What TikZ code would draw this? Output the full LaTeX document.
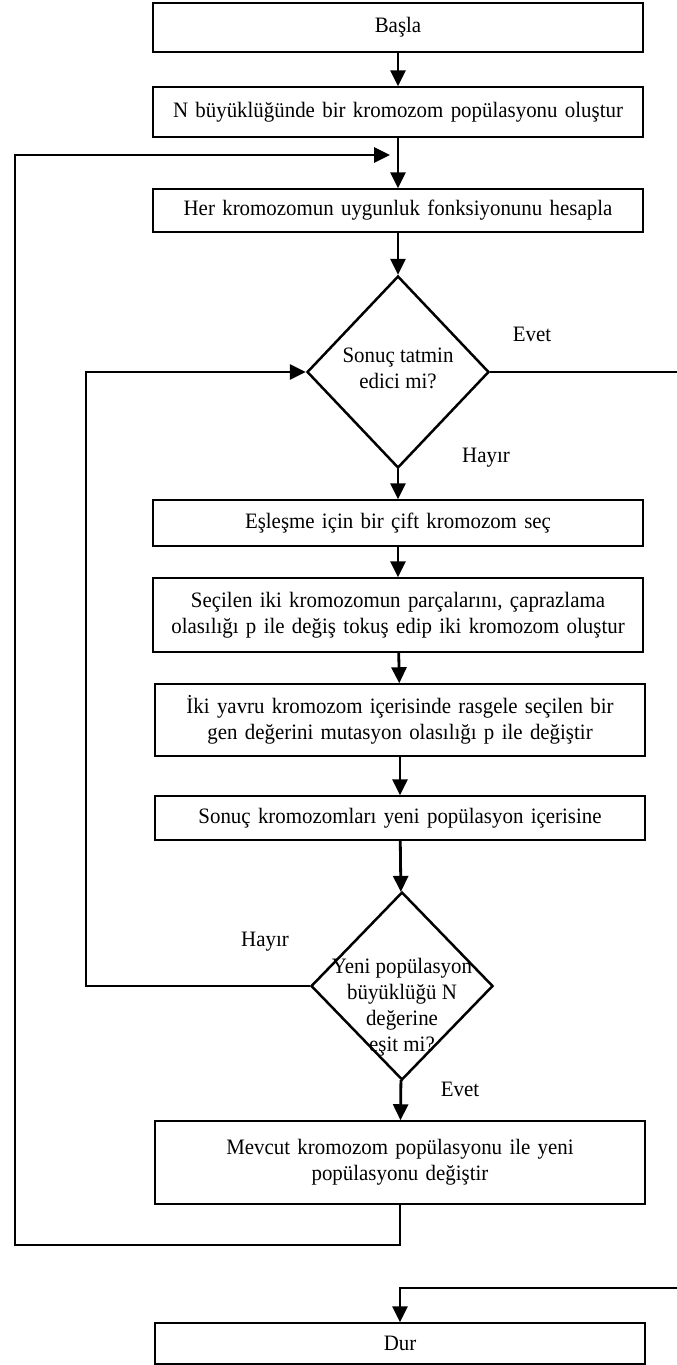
\documentclass[tikz,border=0pt]{standalone}
\usepackage{fontspec}
\setmainfont{Liberation Serif}[FakeStretch=0.95]
\usetikzlibrary{shapes.geometric,arrows.meta}

\tikzset{
  every node/.style={font=\fontsize{22pt}{26pt}\selectfont},
  procbox/.style={draw, line width=1.5pt, minimum width=490pt, text width=470pt,
                  inner xsep=10pt, inner ysep=0pt, align=center, minimum height=#1},
  decision/.style={draw, diamond, line width=2.5pt, inner sep=0pt,
                   minimum width=182pt, minimum height=#1},
  dtext/.style={align=center, inner sep=0pt},
  lbl/.style={inner sep=0pt},
  conn/.style={line width=2.8pt},
  arr/.style={conn, -{Triangle[length=16pt,width=15pt]}},
}

\begin{document}
\begin{tikzpicture}[x=1pt, y=-1pt]
  \fill[white] (0,0) rectangle (677,1365);
  \useasboundingbox (0,0) rectangle (677,1365);
  \clip (0,0) rectangle (677,1365);

  % process steps and decisions
  \node[procbox=49pt]  (start) at (398,27.5) {Başla};
  \node[procbox=50pt]  (init)  at (398,112)  {N büyüklüğünde bir kromozom popülasyonu oluştur};
  \node[procbox=43pt]  (fit)   at (398,210.5) {Her kromozomun uygunluk fonksiyonunu hesapla};
  \node[decision=192pt] (ok)   at (398,372) {};
  \node[dtext]         (okt)   at (398,368) {Sonuç tatmin\\edici mi?};
  \node[procbox=46pt]  (sel)   at (398,523)  {Eşleşme için bir çift kromozom seç};
  \node[procbox=74pt]  (cross) at (398,615)  {Seçilen iki kromozomun parçalarını, çaprazlama\\olasılığı p ile değiş tokuş edip iki kromozom oluştur};
  \node[procbox=72pt]  (mut)   at (400,720)  {İki yavru kromozom içerisinde rasgele seçilen bir\\gen değerini mutasyon olasılığı p ile değiştir};
  \node[procbox=44pt]  (put)   at (400,818)  {Sonuç kromozomları yeni popülasyon içerisine};
  \node[decision=188pt] (full) at (402,986) {};
  \node[dtext]         (fullt) at (402,1007) {Yeni popülasyon\\büyüklüğü N\\değerine\\eşit mi?};
  \node[procbox=83pt]  (repl)  at (400,1162.5) {Mevcut kromozom popülasyonu ile yeni\\popülasyonu değiştir};
  \node[procbox=41pt]  (stop)  at (400,1343.5) {Dur};

  % branch labels
  \node[lbl] (yes1) at (532,334)  {Evet};
  \node[lbl] (no1)  at (486,458)  {Hayır};
  \node[lbl] (no2)  at (265,942)  {Hayır};
  \node[lbl] (yes2) at (460,1089) {Evet};

  % routing points
  \coordinate (loopin) at (390,155);
  \coordinate (outerb) at (15,1245);
  \coordinate (innerc) at (86,372);
  \coordinate (rtop)   at (680,372);
  \coordinate (rbot)   at (680,1288);

  % main flow
  \draw[arr] (start) -- (init);
  \draw[arr] (init)  -- (fit);
  \draw[arr] (fit)   -- (ok);
  \draw[arr] (ok)    -- (sel);
  \draw[arr] (sel)   -- (cross);
  \draw[arr] (cross) -- (mut);
  \draw[arr] (mut)   -- (put);
  \draw[arr] (put)   -- (full);
  \draw[arr] (full)  -- (repl);

  % feedback loops
  \draw[arr] (repl.south) |- (outerb) |- (loopin);
  \draw[arr] (full.west) -| (innerc) -- (ok.west);

  % exit to the end step
  \draw[arr] (ok.east) -- (rtop) -- (rbot) -| (stop.north);
\end{tikzpicture}
\end{document}
